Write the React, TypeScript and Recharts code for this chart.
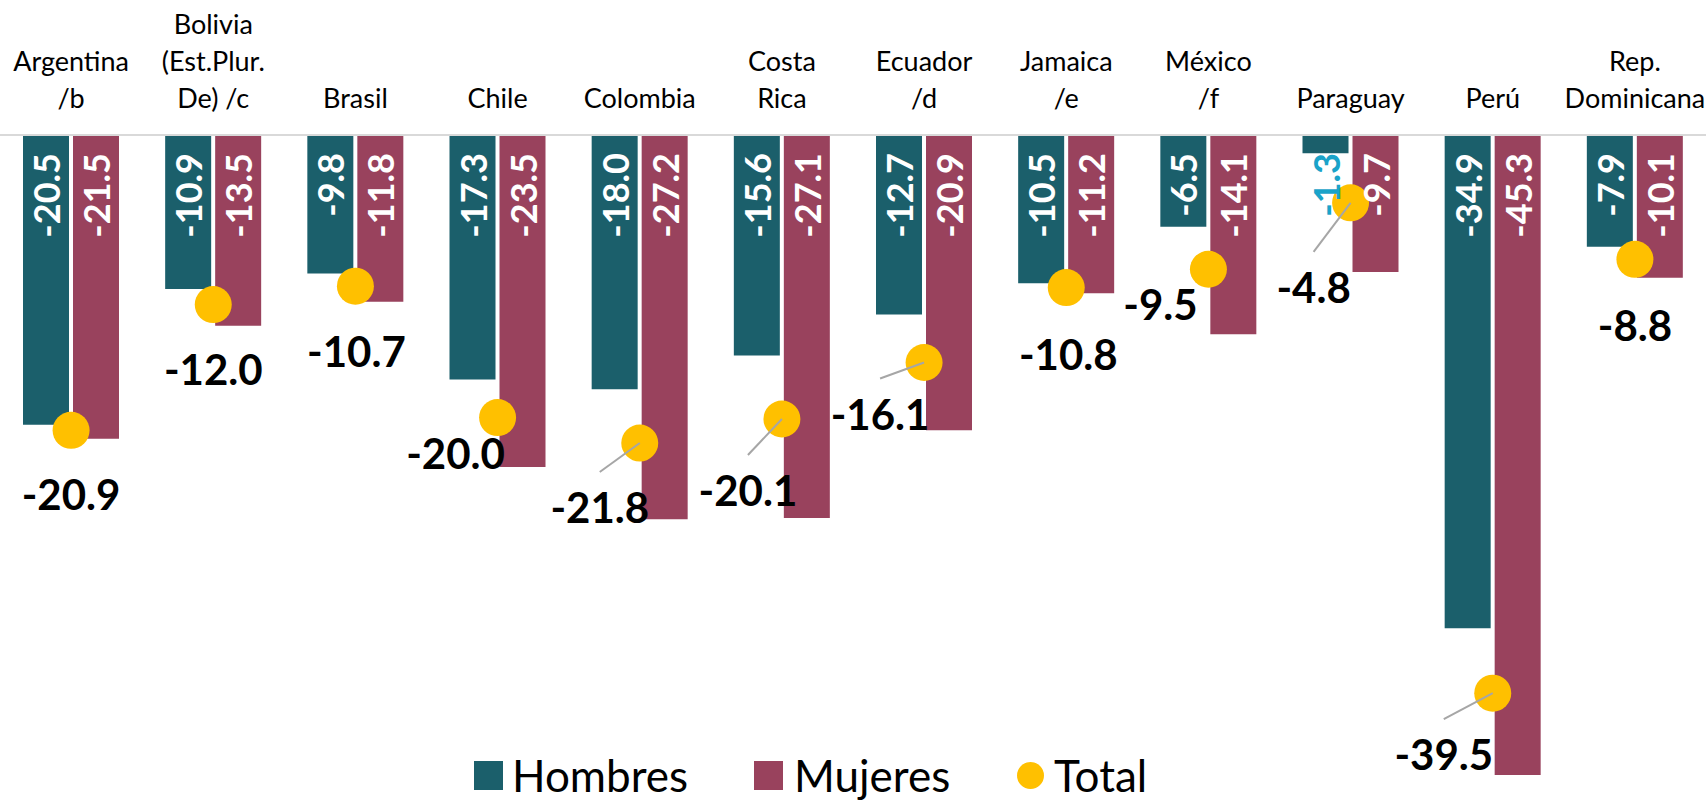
import { ComposedChart, Bar, Line, XAxis, YAxis, ReferenceLine, LabelList, Legend } from 'recharts';

const countries = [
  'Argentina\n/b',
  'Bolivia\n(Est.Plur.\nDe) /c',
  'Brasil',
  'Chile',
  'Colombia',
  'Costa\nRica',
  'Ecuador\n/d',
  'Jamaica\n/e',
  'México\n/f',
  'Paraguay',
  'Perú',
  'Rep.\nDominicana',
];
const hombres = [-20.5, -10.9, -9.8, -17.3, -18.0, -15.6, -12.7, -10.5, -6.5, -1.3, -34.9, -7.9];
const mujeres = [-21.5, -13.5, -11.8, -23.5, -27.2, -27.1, -20.9, -11.2, -14.1, -9.7, -45.3, -10.1];
const total = [-20.9, -12.0, -10.7, -20.0, -21.8, -20.1, -16.1, -10.8, -9.5, -4.8, -39.5, -8.8];

// total labels were dragged around by hand in the original: offset from the dot, and whether a leader line shows
const totalLabelShift: Array<[number, number, boolean]> = [
  [0, 64, false],
  [0, 64, false],
  [1, 65, false],
  [-42, 35, false],
  [-40, 64, true],
  [-34, 71, true],
  [-44, 51, true],
  [2, 66, false],
  [-48, 35, false],
  [-37, 84, true],
  [-49, 61, true],
  [0, 66, false],
];

const TEAL = '#1B5F6B';
const MAROON = '#99425D';
const GOLD = '#FFC000';
const FONT = 'Lato, "Open Sans", sans-serif';

const data = countries.map((country, i) => ({
  country,
  hombres: hombres[i],
  mujeres: mujeres[i],
  total: total[i],
}));

const fmt = (v: number) => v.toFixed(1);

function CountryTick({ x, payload }: any) {
  const lines = String(payload.value).split('\n');
  return (
    <text textAnchor="middle" fontSize={27} fill="#000" fontFamily={FONT}>
      {lines.map((l, i) => (
        <tspan key={i} x={x} y={108 - (lines.length - 1 - i) * 37}>
          {l}
        </tspan>
      ))}
    </text>
  );
}

function BarValue(props: any) {
  const vb = props.viewBox ?? props;
  const { x, y, width, height } = vb;
  const top = Math.min(y, y + height);
  const cx = x + width / 2;
  const ty = top + 18;
  const fits = Math.abs(height) > 60;
  return (
    <text
      x={cx}
      y={ty}
      transform={`rotate(-90 ${cx} ${ty})`}
      textAnchor="end"
      dominantBaseline="central"
      fontSize={36}
      fontWeight={700}
      fontFamily={FONT}
      fill={fits ? '#fff' : '#1AA3C9'}
    >
      {fmt(Number(props.value))}
    </text>
  );
}

function TotalDot(props: any) {
  const { cx, cy, index } = props;
  if (cx == null || cy == null) return null;
  const [dx, dy, leader] = totalLabelShift[index];
  return (
    <g key={`dot-${index}`}>
      <circle cx={cx} cy={cy} r={18.5} fill={GOLD} />
      {leader && (
        <line x1={cx} y1={cy} x2={cx + dx} y2={cy + dy - 35} stroke="#A6A6A6" strokeWidth={2} />
      )}
      <text
        x={cx + dx}
        y={cy + dy}
        textAnchor="middle"
        dominantBaseline="central"
        fontSize={42}
        fontWeight={700}
        fontFamily={FONT}
        fill="#000"
      >
        {fmt(total[index])}
      </text>
    </g>
  );
}

function LegendBox() {
  const sq = (c: string) => <span style={{ display: 'inline-block', width: 29, height: 29, background: c, flex: 'none' }} />;
  return (
    <div
      style={{
        display: 'flex',
        alignItems: 'center',
        height: 46,
        fontFamily: FONT,
        fontSize: 44,
        lineHeight: '46px',
        color: '#000',
        whiteSpace: 'nowrap',
      }}
    >
      {sq(TEAL)}
      <span style={{ marginLeft: 9, width: 242 }}>Hombres</span>
      {sq(MAROON)}
      <span style={{ marginLeft: 11, width: 223 }}>Mujeres</span>
      <span style={{ display: 'inline-block', width: 27, height: 27, borderRadius: '50%', background: GOLD, flex: 'none' }} />
      <span style={{ marginLeft: 10 }}>Total</span>
    </div>
  );
}

export default function App() {
  return (
    <div style={{ position: 'absolute', left: 0, top: 0, background: '#fff' }}>
      <ComposedChart width={1706} height={801} data={data} margin={{ top: 0, right: 0, left: 0, bottom: 16 }}>
        <XAxis
          dataKey="country"
          orientation="top"
          height={135}
          axisLine={false}
          tickLine={false}
          interval={0}
          tick={<CountryTick />}
        />
        <YAxis hide domain={[-46, 0]} />
        <ReferenceLine y={0} stroke="#D9D9D9" strokeWidth={2} />
        <Bar dataKey="hombres" name="Hombres" fill={TEAL} barSize={46} isAnimationActive={false}>
          <LabelList dataKey="hombres" content={<BarValue />} />
        </Bar>
        <Bar dataKey="mujeres" name="Mujeres" fill={MAROON} barSize={46} isAnimationActive={false}>
          <LabelList dataKey="mujeres" content={<BarValue />} />
        </Bar>
        <Line
          dataKey="total"
          name="Total"
          stroke="none"
          dot={(p: any) => <TotalDot key={`t-${p.index}`} {...p} />}
          activeDot={false}
          isAnimationActive={false}
        />
        <Legend
          layout="horizontal"
          verticalAlign="middle"
          align="center"
          wrapperStyle={{ top: 752, left: 474, width: 800 }}
          content={() => <LegendBox />}
        />
      </ComposedChart>
    </div>
  );
}
